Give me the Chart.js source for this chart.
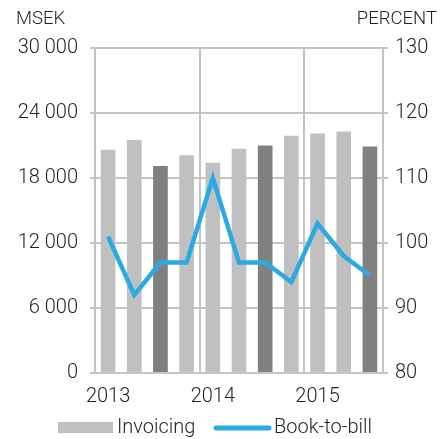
<!DOCTYPE html>
<html>
<head>
<meta charset="utf-8">
<script src="https://cdn.jsdelivr.net/npm/chart.js@4.4.0/dist/chart.umd.min.js"></script>
<style>
  html, body { margin: 0; padding: 0; background: #fff; }
  #wrap { width: 444px; height: 439px; }
</style>
</head>
<body>
<div id="wrap"><canvas id="chart" width="444" height="439"></canvas></div>
<script>
// Data
const periods = ['2013', '', '', '', '2014', '', '', '', '2015', '', ''];
const invoicing = [20600, 21500, 19100, 20100, 19400, 20700, 21000, 21900, 22100, 22300, 20900];
const bookToBill = [101, 92, 97, 97, 110, 97, 97, 94, 103, 98, 95];
const highlighted = [false, false, true, false, false, false, true, false, false, false, true];
const yearStarts = [4, 8];

// Styles
const TEXT = '#231f20';
const GRID = '#c4c4c4';
const LIGHT = '#c0c0c0';
const DARK = '#808080';
const BLUE = '#29abe2';
const FONT = 'Roboto, "Liberation Sans", Arial, sans-serif';

const formatThousands = (v) => String(v).replace(/\B(?=(\d{3})+(?!\d))/g, ' ');

// Axis headers + legend drawn on the canvas
const decorPlugin = {
    id: 'decor',
    afterDraw(chart) {
        const ctx = chart.ctx;
        ctx.save();
        ctx.fillStyle = TEXT;
        ctx.textBaseline = 'middle';

        // Axis units
        ctx.font = '300 18.5px ' + FONT;
        ctx.textAlign = 'left';
        ctx.fillText('MSEK', 16, 19);
        ctx.textAlign = 'right';
        ctx.fillText('PERCENT', 437, 19);

        // Legend
        const ly = 428;
        ctx.fillStyle = LIGHT;
        ctx.fillRect(58, ly - 6, 55, 11);

        ctx.strokeStyle = BLUE;
        ctx.lineWidth = 5;
        ctx.lineCap = 'round';
        ctx.beginPath();
        ctx.moveTo(216, ly);
        ctx.lineTo(269, ly);
        ctx.stroke();

        ctx.fillStyle = TEXT;
        ctx.font = '300 20px ' + FONT;
        ctx.textAlign = 'left';
        ctx.fillText('Invoicing', 117, ly);
        ctx.fillText('Book-to-bill', 274, ly);
        ctx.restore();
    }
};

const tickFont = { family: FONT, size: 20, weight: '300' };

const chart = new Chart(document.getElementById('chart'), {
    type: 'bar',
    data: {
        labels: periods,
        datasets: [
            {
                type: 'line',
                label: 'Book-to-bill',
                data: bookToBill,
                yAxisID: 'y1',
                borderColor: BLUE,
                borderWidth: 4.5,
                pointRadius: 0,
                tension: 0,
                order: 0
            },
            {
                label: 'Invoicing',
                data: invoicing,
                yAxisID: 'y',
                backgroundColor: highlighted.map(h => h ? DARK : LIGHT),
                borderWidth: 0,
                barPercentage: 0.56,
                categoryPercentage: 1,
                order: 1
            }
        ]
    },
    options: {
        responsive: false,
        animation: false,
        layout: { padding: { top: 48, left: 0, right: 0, bottom: 0 } },
        plugins: {
            legend: { display: false },
            tooltip: { enabled: false }
        },
        scales: {
            x: {
                offset: true,
                grid: {
                    offset: true,
                    drawTicks: false,
                    lineWidth: 2,
                    color: (c) => yearStarts.includes(c.index) ? GRID : 'rgba(0,0,0,0)'
                },
                border: { display: false },
                ticks: {
                    autoSkip: false,
                    maxRotation: 0,
                    padding: 12,
                    color: TEXT,
                    font: tickFont
                },
                afterFit: (s) => { s.height = 66; }
            },
            y: {
                position: 'left',
                min: 0,
                max: 30000,
                grid: { color: GRID, lineWidth: 2, tickLength: 5 },
                border: { display: true, color: GRID, width: 2 },
                ticks: {
                    stepSize: 6000,
                    padding: 12,
                    color: TEXT,
                    font: tickFont,
                    callback: (v) => formatThousands(v)
                },
                afterFit: (s) => { s.width = 95; }
            },
            y1: {
                position: 'right',
                min: 80,
                max: 130,
                grid: { drawOnChartArea: false, color: GRID, lineWidth: 2, tickLength: 5 },
                border: { display: true, color: GRID, width: 2 },
                ticks: {
                    stepSize: 10,
                    padding: 7,
                    color: TEXT,
                    font: tickFont
                },
                afterFit: (s) => { s.width = 61; }
            }
        }
    },
    plugins: [decorPlugin]
});
</script>
</body>
</html>
